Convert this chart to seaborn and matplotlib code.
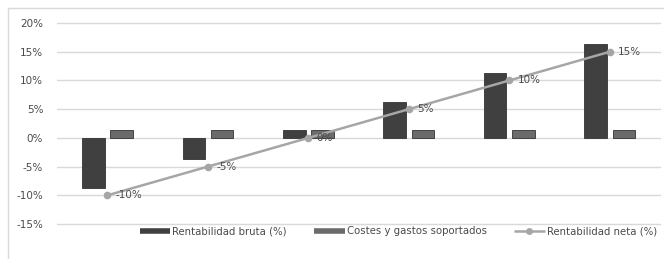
import numpy as np
import pandas as pd
import seaborn as sns
import matplotlib.pyplot as plt
from matplotlib.lines import Line2D
from matplotlib.patches import Rectangle

# Data
categorias = ["A", "B", "C", "D", "E", "F"]
rentabilidad_bruta = [-8.7, -3.7, 1.3, 6.3, 11.3, 16.3]
costes_gastos = [1.3, 1.3, 1.3, 1.3, 1.3, 1.3]
rentabilidad_neta = [-10, -5, 0, 5, 10, 15]
yticks = [-15, -10, -5, 0, 5, 10, 15, 20]

serie_bruta = "Rentabilidad bruta (%)"
serie_costes = "Costes y gastos soportados"
serie_neta = "Rentabilidad neta (%)"

col_bruta = "#404040"
col_costes = "#6b6b6b"
col_neta = "#a6a6a6"
col_text = "#4a4a4a"
col_grid = "#d9d9d9"

sns.set_style("white")
plt.rcParams["font.family"] = ["DejaVu Sans"]

df_bars = pd.DataFrame({
    "categoria": categorias * 2,
    "valor": rentabilidad_bruta + costes_gastos,
    "serie": [serie_bruta] * 6 + [serie_costes] * 6,
})

fig = plt.figure(figsize=(6.64, 2.59), dpi=100)
ax = fig.add_axes([0.086, 0.135, 0.908, 0.776])

sns.barplot(data=df_bars, x="categoria", y="valor", hue="serie",
            palette=[col_bruta, col_costes], width=0.56, gap=0.2,
            edgecolor="#333333", linewidth=0.6, legend=False, ax=ax,
            zorder=3)

x_pos = np.arange(len(categorias))
sns.lineplot(x=x_pos, y=rentabilidad_neta, color=col_neta, linewidth=1.8,
             marker="o", markersize=5.5, markeredgewidth=0, ax=ax, zorder=4)

for x, v in zip(x_pos, rentabilidad_neta):
    ax.annotate("{}%".format(v), (x, v), xytext=(6, 0),
                textcoords="offset points", va="center", ha="left",
                fontsize=7.5, color=col_text, zorder=5)

ax.set_ylim(-15, 20)
ax.set_xlim(-0.5, 5.5)
ax.set_yticks(yticks)
ax.set_yticklabels(["{}%".format(t) for t in yticks])
ax.set_xticks([])
ax.set(xlabel=None, ylabel=None)
ax.grid(axis="y", color=col_grid, linewidth=1.0, zorder=0)
for gl in ax.get_ygridlines():
    gl.set_clip_on(False)
ax.set_axisbelow(True)
for s in ax.spines.values():
    s.set_visible(False)
ax.tick_params(axis="y", length=0, pad=10, labelsize=7.5,
               labelcolor=col_text)

handles = [
    Line2D([0], [0], color=col_bruta, linewidth=4, solid_capstyle="butt"),
    Line2D([0], [0], color=col_costes, linewidth=4, solid_capstyle="butt"),
    Line2D([0], [0], color=col_neta, linewidth=1.8, marker="o",
           markersize=5, markeredgewidth=0, solid_capstyle="butt"),
]
leg = ax.legend(handles, [serie_bruta, serie_costes, serie_neta],
                loc="center", bbox_to_anchor=(0.566, -0.037), ncol=3,
                frameon=False, fontsize=7.3, handlelength=3.0,
                handletextpad=0.2, columnspacing=2.7)
for t in leg.get_texts():
    t.set_color(col_text)

fig.patches.append(Rectangle((8 / 664, -0.02), 1.0, 1 - 8 / 259 + 0.02,
                             transform=fig.transFigure, fill=False,
                             edgecolor=col_grid, linewidth=1.0))

fig.savefig("out.png", dpi=100)
